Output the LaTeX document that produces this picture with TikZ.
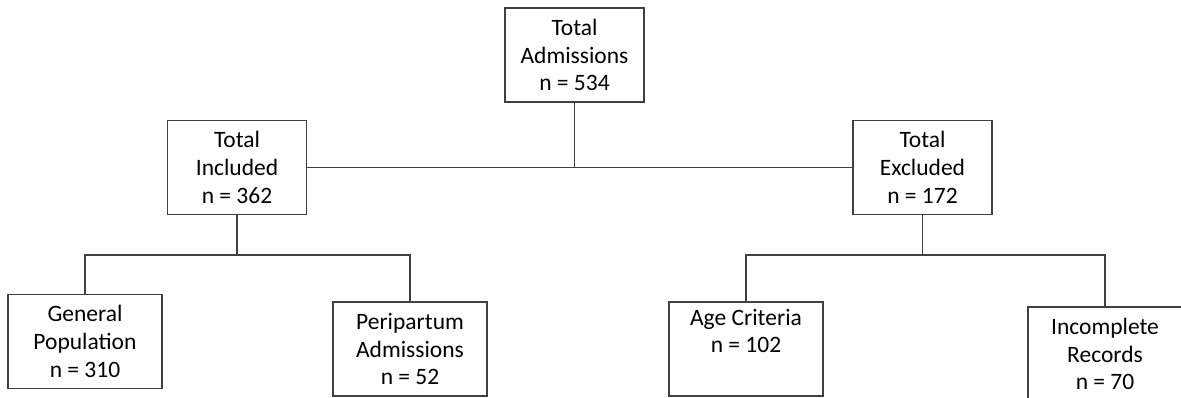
\documentclass[tikz,border=0pt]{standalone}
\usepackage{fontspec}
\setmainfont{Carlito}

\begin{document}
\begin{tikzpicture}[x=1pt, y=1pt,
	box/.style={draw=black!75, line width=1.4pt, align=center, inner sep=0pt,
		minimum height=94pt, font=\fontsize{23.5}{27.7}\selectfont},
	upper/.style={box, minimum width=139pt},
	lower/.style={box, minimum width=154pt},
	link/.style={draw=black!75, line width=1.4pt}]
		\useasboundingbox (0, 0) rectangle (1181, 398);
		\node[upper] (adm) at (574.5, 343) {Total\\Admissions\\n = 534};
		\node[upper] (incl) at (237, 230.5) {Total\\Included\\n = 362};
		\node[upper] (excl) at (922.5, 230.5) {Total\\Excluded\\n = 172};
		\node[lower] (gen) at (85, 56.5) {General\\Population\\n = 310};
		\node[lower] (peri) at (410, 49) {Peripartum\\Admissions\\n = 52};
		\node[lower] (age) at (746, 49) {Age Criteria\\n = 102\\\strut};
		\node[lower] (inc) at (1105, 44) {Incomplete\\Records\\n = 70};
		
		\draw[link] (incl.east) -- (excl.west);
		\draw[link] (adm.south) -- (adm.south |- incl.east);
		\coordinate (inclfork) at ([yshift=-40pt]incl.south);
		\coordinate (exclfork) at ([yshift=-40pt]excl.south);
		\draw[link] (incl.south) -- (inclfork);
		\draw[link] (gen.north) |- (inclfork) -| (peri.north);
		\draw[link] (excl.south) -- (exclfork);
		\draw[link] (age.north) |- (exclfork) -| (inc.north);
\end{tikzpicture}
\end{document}
